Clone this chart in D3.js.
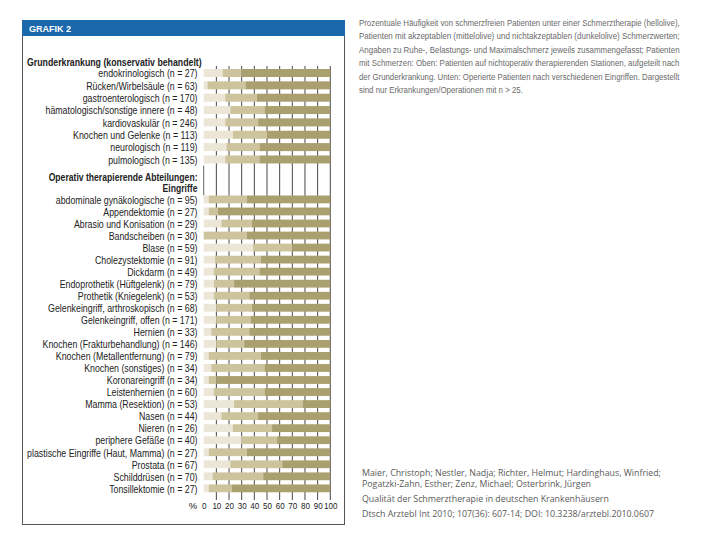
<!DOCTYPE html>
<html><head><meta charset="utf-8">
<script src="https://cdn.jsdelivr.net/npm/d3@7"></script>
<style>
html,body{margin:0;padding:0;background:#fff;}
svg{display:block;}
</style></head>
<body>
<script>
// ---------- DATA ----------
const sectionTitle1 = "Grunderkrankung (konservativ behandelt)";
const sectionTitle2 = ["Operativ therapierende Abteilungen:", "Eingriffe"];

const categories1 = [
  "endokrinologisch (n = 27)",
  "Rücken/Wirbelsäule (n = 63)",
  "gastroenterologisch (n = 170)",
  "hämatologisch/sonstige innere (n = 48)",
  "kardiovaskulär (n = 246)",
  "Knochen und Gelenke (n = 113)",
  "neurologisch (n = 119)",
  "pulmologisch (n = 135)"
];
const painFree1   = [15,  3, 17, 21, 17, 23, 18, 17];
const acceptable1 = [15, 30, 25, 27, 26, 27, 26, 27];
const notAccept1  = [70, 67, 58, 52, 57, 50, 56, 56];

const categories2 = [
  "abdominale gynäkologische (n = 95)",
  "Appendektomie (n = 27)",
  "Abrasio und Konisation (n = 29)",
  "Bandscheiben (n = 30)",
  "Blase (n = 59)",
  "Cholezystektomie (n = 91)",
  "Dickdarm (n = 49)",
  "Endoprothetik (Hüftgelenk) (n = 79)",
  "Prothetik (Kniegelenk) (n = 53)",
  "Gelenkeingriff, arthroskopisch (n = 68)",
  "Gelenkeingriff, offen (n = 171)",
  "Hernien (n = 33)",
  "Knochen (Frakturbehandlung) (n = 146)",
  "Knochen (Metallentfernung) (n = 79)",
  "Knochen (sonstiges) (n = 34)",
  "Koronareingriff (n = 34)",
  "Leistenhernien (n = 60)",
  "Mamma (Resektion) (n = 53)",
  "Nasen (n = 44)",
  "Nieren (n = 26)",
  "periphere Gefäße (n = 40)",
  "plastische Eingriffe (Haut, Mamma) (n = 27)",
  "Prostata (n = 67)",
  "Schilddrüsen (n = 70)",
  "Tonsillektomie (n = 27)"
];
const painFree2   = [ 4, 4, 14,  0, 39,  9,  8,  8,  8, 10, 10,  6, 10,  4,  6,  4,  8, 24, 14, 23, 30,  4, 21,  7,  4];
const acceptable2 = [30, 7, 24, 34, 31, 36, 36, 16, 28, 28, 27, 30, 22, 41, 42,  6, 40, 54, 29, 31, 28, 30, 41, 40, 18];
const notAccept2  = [66, 89, 62, 66, 30, 55, 56, 76, 64, 62, 63, 64, 68, 55, 52, 90, 52, 22, 57, 46, 42, 66, 38, 53, 78];

const tickValues = [0, 10, 20, 30, 40, 50, 60, 70, 80, 90, 100];
const axisUnit = "%";
const headerText = "GRAFIK 2";

const captionLines = [
  "Prozentuale Häufigkeit von schmerzfreien Patienten unter einer Schmerztherapie (hellolive),",
  "Patienten mit akzeptablen (mittelolive) und nichtakzeptablen (dunkelolive) Schmerzwerten;",
  "Angaben zu Ruhe-, Belastungs- und Maximalschmerz jeweils zusammengefasst; Patienten",
  "mit Schmerzen: Oben: Patienten auf nichtoperativ therapierenden Stationen, aufgeteilt nach",
  "der Grunderkrankung. Unten: Operierte Patienten nach verschiedenen Eingriffen. Dargestellt",
  "sind nur Erkrankungen/Operationen mit n > 25."
];
const sourceLines = [
  "Maier, Christoph; Nestler, Nadja; Richter, Helmut; Hardinghaus, Winfried;",
  "Pogatzki-Zahn, Esther; Zenz, Michael; Osterbrink, Jürgen",
  "Qualität der Schmerztherapie in deutschen Krankenhäusern",
  "Dtsch Arztebl Int 2010; 107(36): 607-14; DOI: 10.3238/arztebl.2010.0607"
];

// ---------- STYLE / LAYOUT ----------
const W = 720, H = 540;
const colors = ["#ebe6d5", "#cdc39c", "#aa9f6e"];
const FONT = "'Liberation Sans', Arial, sans-serif";

const svg = d3.select("body").append("svg").attr("width", W).attr("height", H);
svg.append("rect").attr("width", W).attr("height", H).attr("fill", "#fff");

// frame + header
svg.append("rect").attr("x", 22.5).attr("y", 20.5).attr("width", 322).attr("height", 504)
  .attr("fill", "none").attr("stroke", "#555").attr("stroke-width", 1);
svg.append("rect").attr("x", 22).attr("y", 20).attr("width", 323).attr("height", 16).attr("fill", "#1b68ad");
svg.append("text").attr("x", 29).attr("y", 32).text(headerText)
  .attr("font-family", FONT).attr("font-size", 9).attr("font-weight", "bold").attr("fill", "#fff");

const x = d3.scaleLinear().domain([0, 100]).range([203.7, 330.3]);

const step1 = 12.35, top1 = 69, step2 = 12.04, top2 = 195.5;
const y1 = d3.scaleBand().domain(categories1)
  .range([top1 - 0.176 * step1, top1 - 0.176 * step1 + categories1.length * step1])
  .paddingInner(0.352).paddingOuter(0.176);
const y2 = d3.scaleBand().domain(categories2)
  .range([top2 - 0.176 * step2, top2 - 0.176 * step2 + categories2.length * step2])
  .paddingInner(0.352).paddingOuter(0.176);

// gridlines
const gridTop = 66, gridBottom = 500;
svg.append("g").selectAll("line").data(tickValues.filter(v => v > 0)).join("line")
  .attr("x1", d => x(d)).attr("x2", d => x(d))
  .attr("y1", gridTop).attr("y2", gridBottom)
  .attr("stroke", "#333").attr("stroke-width", 0.9);
svg.append("line").attr("x1", x(0)).attr("x2", x(0))
  .attr("y1", y1.range()[1]).attr("y2", y2.range()[0] + 2)
  .attr("stroke", "#555").attr("stroke-width", 0.9);

function drawBars(cats, s1, s2, s3, y) {
  const rows = cats.map((c, i) => ({c, v: [s1[i], s2[i], s3[i]]}));
  const g = svg.append("g");
  rows.forEach(r => {
    let acc = 0;
    r.v.forEach((v, k) => {
      g.append("rect")
        .attr("x", x(acc)).attr("width", x(acc + v) - x(acc))
        .attr("y", y(r.c)).attr("height", y.bandwidth())
        .attr("fill", colors[k]);
      acc += v;
    });
  });
}
drawBars(categories1, painFree1, acceptable1, notAccept1, y1);
drawBars(categories2, painFree2, acceptable2, notAccept2, y2);

// labels (condensed type)
const labelRight = 197.5;
const lg = svg.append("g").attr("font-family", FONT).attr("font-size", 10.5).attr("fill", "#222");
const allLabels = [];
categories1.forEach(c => allLabels.push({t: c, y: y1(c) + y1.bandwidth() / 2}));
categories2.forEach(c => allLabels.push({t: c, y: y2(c) + y2.bandwidth() / 2}));
const labelTexts = lg.selectAll("text").data(allLabels).join("text")
  .attr("text-anchor", "end").attr("dominant-baseline", "central")
  .attr("y", d => d.y + 0.5).text(d => d.t);
let maxW = 0;
labelTexts.each(function () { maxW = Math.max(maxW, this.getComputedTextLength()); });
const sx = (labelRight - 27) / maxW;
labelTexts.attr("transform", `translate(${labelRight},0) scale(${sx},1)`);

// section titles
const tg = svg.append("g").attr("font-family", FONT).attr("font-size", 10.5).attr("font-weight", "bold").attr("fill", "#222");
const t1 = tg.append("text").attr("text-anchor", "start").attr("y", 62.5).attr("dominant-baseline", "central").text(sectionTitle1);
const t1w = t1.node().getComputedTextLength();
t1.attr("transform", `translate(27,0) scale(${175 / t1w},1)`);
const t2 = tg.selectAll("text.s2").data(sectionTitle2).join("text").attr("class", "s2")
  .attr("text-anchor", "end").attr("dominant-baseline", "central")
  .attr("y", (d, i) => 177.5 + i * 11).text(d => d);
const t2w = t2.node().getComputedTextLength();
t2.attr("transform", `translate(${labelRight},0) scale(${149 / t2w},1)`);

// axis
const axis = d3.axisBottom(x).tickValues(tickValues).tickSize(0).tickPadding(0).tickFormat(d3.format("d"));
const ag = svg.append("g").attr("transform", "translate(0,500)").call(axis);
ag.select(".domain").remove();
ag.selectAll(".tick text").attr("font-family", FONT).attr("font-size", 9.5).attr("fill", "#222")
  .attr("dy", "0.9em").attr("transform", "scale(0.85,1)");
svg.append("text").attr("x", 193).attr("y", 500).attr("dy", "0.9em").attr("text-anchor", "middle")
  .attr("font-family", FONT).attr("font-size", 9.5).attr("fill", "#222").text(axisUnit);

// caption (right column), justified lines via horizontal scaling
const cg = svg.append("g").attr("font-family", FONT).attr("font-size", 9.3).attr("fill", "#6a6a6a");
const capX = 359, capW = 321, capY = 26, capStep = 13.4;
const capTexts = cg.selectAll("text").data(captionLines).join("text")
  .attr("x", 0).attr("y", (d, i) => capY + i * capStep).text(d => d);
const capRatio = capW / capTexts.node().getComputedTextLength();
capTexts.each(function (d, i) {
  const nat = this.getComputedTextLength();
  const s = i < captionLines.length - 1 ? capW / nat : capRatio;
  d3.select(this).attr("transform", `translate(${capX},0) scale(${s},1)`);
});

// source lines
const sg = svg.append("g").attr("font-family", "'Open Sans', 'Liberation Sans', sans-serif").attr("font-size", 8.6).attr("fill", "#5a5a5a");
const srcTexts = sg.selectAll("text").data(sourceLines).join("text")
  .attr("x", 0).attr("y", (d, i) => [476, 487, 502, 517][i]).text(d => d);
const srcRatio = 299 / srcTexts.node().getComputedTextLength();
srcTexts.attr("transform", `translate(362,0) scale(${srcRatio},1)`);
</script>
</body></html>
